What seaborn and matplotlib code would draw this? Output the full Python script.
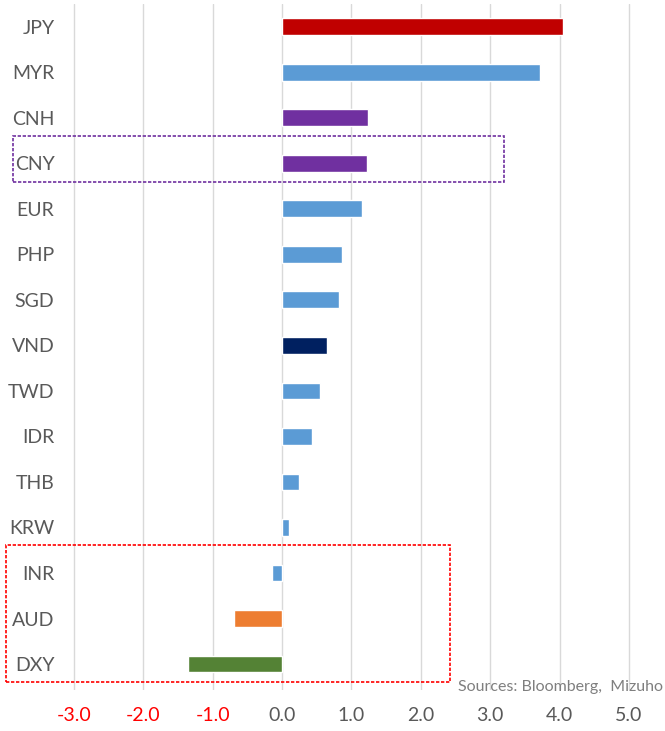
import seaborn as sns
import matplotlib.pyplot as plt
import matplotlib.patches as mpatches
import pandas as pd

# data
currencies = ['JPY', 'MYR', 'CNH', 'CNY', 'EUR', 'PHP', 'SGD', 'VND',
              'TWD', 'IDR', 'THB', 'KRW', 'INR', 'AUD', 'DXY']
changes = [4.05, 3.72, 1.24, 1.22, 1.16, 0.86, 0.82, 0.65,
           0.55, 0.43, 0.24, 0.10, -0.14, -0.69, -1.36]
bar_colors = ['#C00000', '#5B9BD5', '#7030A0', '#7030A0', '#5B9BD5', '#5B9BD5',
              '#5B9BD5', '#002060', '#5B9BD5', '#5B9BD5', '#5B9BD5', '#5B9BD5',
              '#5B9BD5', '#ED7D31', '#548235']
x_ticks = [-3.0, -2.0, -1.0, 0.0, 1.0, 2.0, 3.0, 4.0, 5.0]

df = pd.DataFrame({'ccy': currencies, 'chg': changes})

sns.set_theme(style="white")
plt.rcParams['font.family'] = ['Lato', 'DejaVu Sans']

fig = plt.figure(figsize=(6.65, 7.31), dpi=100)
ax = fig.add_axes([53 / 665, 1 - 690 / 731, 1 - 53 / 665, (690 - 4) / 731])

sns.barplot(data=df, x='chg', y='ccy', hue='ccy', orient='h',
            palette=dict(zip(currencies, bar_colors)), legend=False,
            width=0.37, saturation=1, ax=ax)

ax.set_xlim(-3.3, 5.52)
ax.set_ylim(14.57, -0.5)
ax.set_xticks(x_ticks)
ax.set_xticklabels([f'{t:.1f}' for t in x_ticks])
for lbl, t in zip(ax.get_xticklabels(), x_ticks):
    lbl.set_color('#FF0000' if t < 0 else '#595959')
ax.tick_params(axis='x', length=0, pad=12, labelsize=14)
ax.tick_params(axis='y', length=0, pad=-1, labelsize=14, labelcolor='#595959')
ax.set_xlabel('')
ax.set_ylabel('')
ax.grid(axis='x', color='#D9D9D9', linewidth=1)
ax.set_axisbelow(True)
for s in ax.spines.values():
    s.set_visible(False)

# dashed highlight boxes (pixel positions from the reference)
def box(x0, y0, x1, y1, color):
    r = mpatches.Rectangle((x0 / 665, 1 - y1 / 731), (x1 - x0) / 665, (y1 - y0) / 731,
                           transform=fig.transFigure, fill=False, edgecolor=color,
                           linestyle=(0, (2, 1)), linewidth=1.2)
    fig.add_artist(r)

box(13, 136, 504, 182, '#7030A0')
box(6, 545, 450, 682, '#FF0000')

fig.text(663 / 665, 1 - 687 / 731, 'Sources: Bloomberg,  Mizuho', fontsize=11.5,
         color='#7F7F7F', va='center', ha='right')

plt.savefig('out.png', dpi=100)
